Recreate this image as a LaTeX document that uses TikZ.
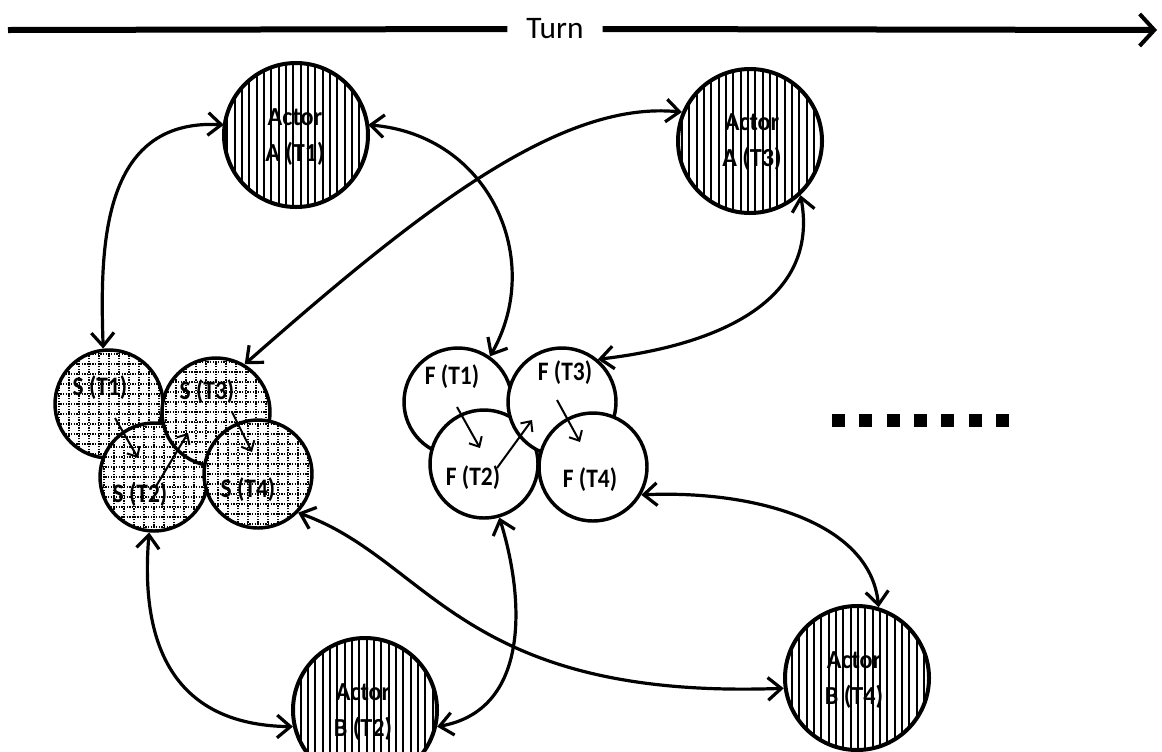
\documentclass[tikz,border=0pt]{standalone}
\usepackage{fontspec}
\setmainfont{Carlito}
\usetikzlibrary{arrows.meta,patterns.meta}
\begin{document}
\begin{tikzpicture}[x=0.75pt,y=-0.75pt,
  actor/.style={circle, draw, line width=3pt, minimum size=108pt, inner sep=0pt,
    preaction={fill=white},
    pattern={Lines[angle=90,distance=5.5pt,line width=1.4pt]}},
  actortext/.style={font=\fontsize{19.5}{27}\selectfont\bfseries, align=center, xscale=0.93, inner sep=0pt},
  sbub/.style={circle, draw, line width=2.6pt, minimum size=81pt, inner sep=0pt, fill=white,
    path picture={\draw[line width=0.9pt, dash pattern=on 0.9pt off 1.1pt, black]
      (path picture bounding box.south west) grid[xstep=7.5pt, ystep=7.5pt] (path picture bounding box.north east);}},
  fbub/.style={circle, draw, line width=2.6pt, minimum size=81pt, inner sep=0pt, fill=white},
  lbl/.style={font=\fontsize{20}{22}\selectfont\bfseries, inner sep=0pt, xscale=0.88},
  conn/.style={line width=2.4pt, >={Straight Barb[length=10pt,width=17pt]}, <->},
  inarrow/.style={line width=1.5pt, -{Straight Barb[length=6pt,width=11pt]}},
  dotbox/.style={rectangle, fill=black, minimum size=9.75pt, inner sep=0pt}]
\useasboundingbox (0,0) rectangle (1162,751);

% time axis
\coordinate (tl) at (8,30);
\coordinate (tr) at (1157,30);
\node[font=\fontsize{23.5}{26}\selectfont, inner xsep=14pt] (turn) at (555,29) {Turn};
\draw[line width=4.5pt] (tl) -- (turn.west);
\draw[line width=4.5pt, -{Straight Barb[length=11pt,width=24pt,line width=3pt]}] (turn.east) -- (tr);

% actors
\node[actor] (A1) at (296,135) {};
\node[actor] (A3) at (750,141) {};
\node[actor] (B2) at (365,710) {};
\node[actor] (B4) at (857,678) {};
\node[actortext] (tA1) at (295,137) {Actor\\A (T1)};
\node[actortext] (tA3) at (752,142) {Actor\\A (T3)};
\node[actortext] (tB2) at (363,712) {Actor\\B (T2)};
\node[actortext] (tB4) at (854,680) {Actor\\B (T4)};

% S cluster
\node[sbub] (S1) at (109,404) {};
\node[sbub] (S2) at (154,477) {};
\node[sbub] (S3) at (216,412) {};
\node[sbub] (S4) at (258,474) {};
\node[lbl] (ls1) at (100,388) {S (T1)};
\node[lbl] (ls2) at (140,495) {S (T2)};
\node[lbl] (ls3) at (207,392) {S (T3)};
\node[lbl] (ls4) at (248,490) {S (T4)};

% F cluster
\node[fbub] (F1) at (458,402) {};
\node[fbub] (F2) at (484,464) {};
\node[fbub] (F3) at (562,402) {};
\node[fbub] (F4) at (593,467) {};
\node[lbl] (lf1) at (452,377) {F (T1)};
\node[lbl] (lf2) at (473,478) {F (T2)};
\node[lbl] (lf3) at (565,373) {F (T3)};
\node[lbl] (lf4) at (590,480) {F (T4)};

% steps inside the clusters
\coordinate (s12a) at (115,418); \coordinate (s12b) at (138,458);
\coordinate (s23a) at (155,488); \coordinate (s23b) at (188,433);
\coordinate (s34a) at (232,412); \coordinate (s34b) at (252,452);
\draw[inarrow] (s12a) -- (s12b);
\draw[inarrow] (s23a) -- (s23b);
\draw[inarrow] (s34a) -- (s34b);
\coordinate (f12a) at (457,407); \coordinate (f12b) at (480,448);
\coordinate (f23a) at (497,468); \coordinate (f23b) at (532,420);
\coordinate (f34a) at (557,400); \coordinate (f34b) at (580,442);
\draw[inarrow] (f12a) -- (f12b);
\draw[inarrow] (f23a) -- (f23b);
\draw[inarrow] (f34a) -- (f34b);

% continuation
\foreach \i in {0,...,6} \node[dotbox] (dot\i) at ({838.5+27.3*\i},420) {};

% links between actors and clusters
\draw[conn] (A1.172) .. controls (100,118) and (100,250) .. (S1.96);
\draw[conn] (A1.8) .. controls (490,135) and (545,260) .. (F1.55);
\draw[conn] (A3.157) .. controls (560,100) and (420,210) .. (S3.59);
\draw[conn] (A3.-47) .. controls (820,300) and (720,345) .. (F3.50);
\draw[conn] (S2.-95) .. controls (140,640) and (170,725) .. (B2.193);
\draw[conn] (S4.-44) .. controls (430,560) and (460,700) .. (B4.188);
\draw[conn] (F2.-74) .. controls (525,600) and (530,710) .. (B2.-13);
\draw[conn] (F4.-30) .. controls (750,490) and (870,520) .. (B4.73);
\end{tikzpicture}
\end{document}
